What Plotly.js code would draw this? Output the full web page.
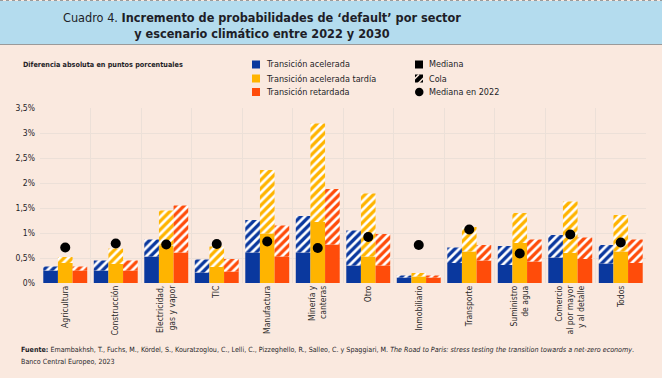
<!DOCTYPE html>
<html>
<head>
<meta charset="utf-8">
<script src="https://cdn.plot.ly/plotly-3.0.1.min.js"></script>
<style>html,body{margin:0;padding:0;background:#fff;}#chart{width:665px;height:378px;}</style>
</head>
<body>
<div id="chart"></div>
<script>
// ---- Data ----
const categorias = ['Agricultura','Construcción','Electricidad,<br>gas y vapor','TIC','Manufactura','Minería y<br>canteras','Otro','Inmobiliario','Transporte','Suministro<br>de agua','Comercio<br>al por mayor<br>y al detalle','Todos'];
const medianaAcelerada   = [0.25,0.25,0.53,0.21,0.61,0.61,0.35,0.11,0.40,0.36,0.51,0.39];
const colaAcelerada      = [0.33,0.45,0.87,0.47,1.26,1.34,1.05,0.15,0.71,0.74,0.96,0.76];
const medianaTardia      = [0.40,0.38,0.75,0.32,0.99,1.22,0.53,0.13,0.63,0.80,0.60,0.63];
const colaTardia         = [0.52,0.69,1.45,0.73,2.26,3.19,1.79,0.20,1.12,1.40,1.63,1.36];
const medianaRetardada   = [0.25,0.25,0.61,0.23,0.53,0.77,0.35,0.11,0.45,0.43,0.48,0.40];
const colaRetardada      = [0.33,0.45,1.55,0.48,1.15,1.88,0.98,0.15,0.76,0.87,0.91,0.87];
const mediana2022        = [0.71,0.79,0.77,0.78,0.83,0.70,0.92,0.76,1.07,0.59,0.97,0.81];
const yTickVals  = [0,0.5,1,1.5,2,2.5,3,3.5];
const yTickText  = ['0%','0,5%','1%','1,5%','2%','2,5%','3%','3,5%'];
const escenarios = ['Transición acelerada','Transición acelerada tardía','Transición retardada'];

// ---- Styles ----
const AZUL = '#0a389e', AMARILLO = '#ffb400', ROJO = '#ff4c0a';
const PEACH = '#fae9df', HEADER = '#b4dcee';
const FAM = "'Liberation Sans Narrow','DejaVu Sans Condensed','Roboto Condensed',Roboto,sans-serif";
const TXT = '#1e1e28';

// plot area in px
const L = 40, R = 19, T = 108, B = 95, W = 665, H = 378;
const PW = W - L - R, PH = H - T - B;
const px = v => (v - L) / PW;
const py = v => (H - B - v) / PH;

function solid(y, color, g) {
  return {type:'bar', x:categorias, y:y, offsetgroup:g, marker:{color:color, line:{width:0}}, hoverinfo:'skip', showlegend:false};
}
function hatch(top, med, color, g) {
  return {type:'bar', x:categorias, y:top.map((t,i)=>t-med[i]), base:med, offsetgroup:g,
    marker:{color:color, line:{width:0}, pattern:{shape:'/', fgcolor:'#ffffff', bgcolor:color, size:6, solidity:0.45, fillmode:'replace'}},
    hoverinfo:'skip', showlegend:false};
}

const traces = [
  solid(medianaAcelerada, AZUL, 'a'), hatch(colaAcelerada, medianaAcelerada, AZUL, 'a'),
  solid(medianaTardia, AMARILLO, 'b'), hatch(colaTardia, medianaTardia, AMARILLO, 'b'),
  solid(medianaRetardada, ROJO, 'c'), hatch(colaRetardada, medianaRetardada, ROJO, 'c'),
  {type:'scatter', mode:'markers', x:categorias, y:mediana2022, marker:{color:'#000', size:10}, hoverinfo:'skip', showlegend:false}
];

const shapes = [
  // header band
  {type:'rect', xref:'paper', yref:'paper', x0:px(0), x1:px(662), y0:py(44), y1:py(1), fillcolor:HEADER, line:{width:0}, layer:'below'},
  {type:'line', xref:'paper', yref:'paper', x0:px(0), x1:px(662), y0:py(0.5), y1:py(0.5), line:{color:'#9a9a9a', width:1, dash:'dot'}},
  {type:'line', xref:'paper', yref:'paper', x0:px(0), x1:px(662), y0:py(44.5), y1:py(44.5), line:{color:'#9a9a9a', width:1}},
  // white strip on the right
  {type:'rect', xref:'paper', yref:'paper', x0:px(662), x1:px(666), y0:py(379), y1:py(-1), fillcolor:'#ffffff', line:{width:0}}
];
const annotations = [
  {xref:'paper', yref:'paper', x:px(262), y:py(25), xanchor:'center', yanchor:'middle', showarrow:false, align:'center',
   text:'Cuadro 4. <b>Incremento de probabilidades de ‘default’ por sector</b><br><b>y escenario climático entre 2022 y 2030</b>',
   font:{family:FAM, size:12.6, color:TXT}},
  {xref:'paper', yref:'paper', x:px(21), y:py(64.5), xanchor:'left', yanchor:'middle', showarrow:false,
   text:'<b>Diferencia absoluta en puntos porcentuales</b>', font:{family:FAM, size:7.2, color:TXT}},
  {xref:'paper', yref:'paper', x:px(19), y:py(349), xanchor:'left', yanchor:'middle', showarrow:false,
   text:'<b>Fuente:</b> Emambakhsh, T., Fuchs, M., Kördel, S., Kouratzoglou, C., Lelli, C., Pizzeghello, R., Salleo, C. y Spaggiari, M. <i>The Road to Paris: stress testing the transition towards a net-zero economy</i>.',
   font:{family:FAM, size:7.1, color:TXT}},
  {xref:'paper', yref:'paper', x:px(19), y:py(361), xanchor:'left', yanchor:'middle', showarrow:false,
   text:'Banco Central Europeo, 2023', font:{family:FAM, size:7.1, color:TXT}}
];

// legend
const rows = [64.5, 78.5, 92];
const colores = [AZUL, AMARILLO, ROJO];
escenarios.forEach((e,i)=>{
  shapes.push({type:'rect', xref:'paper', yref:'paper', x0:px(252), x1:px(260), y0:py(rows[i]+4), y1:py(rows[i]-4), fillcolor:colores[i], line:{width:0}});
  annotations.push({xref:'paper', yref:'paper', x:px(264), y:py(rows[i]), xanchor:'left', yanchor:'middle', showarrow:false,
    text:e, font:{family:FAM, size:9, color:TXT}});
});
const lx = 415;
shapes.push({type:'rect', xref:'paper', yref:'paper', x0:px(lx), x1:px(lx+8), y0:py(rows[0]+4), y1:py(rows[0]-4), fillcolor:'#000', line:{width:0}});
shapes.push({type:'rect', xref:'paper', yref:'paper', x0:px(lx), x1:px(lx+8), y0:py(rows[1]+4), y1:py(rows[1]-4), fillcolor:'#000', line:{width:0}});
[[lx-1, rows[1]+1, lx+4, rows[1]-4],[lx+3, rows[1]+5, lx+9, rows[1]-1]].forEach(s=>{
  shapes.push({type:'line', xref:'paper', yref:'paper', x0:px(s[0]), y0:py(s[1]), x1:px(s[2]), y1:py(s[3]), line:{color:PEACH, width:1.6}});
});
shapes.push({type:'circle', xref:'paper', yref:'paper', x0:px(lx), x1:px(lx+8.5), y0:py(rows[2]+4.25), y1:py(rows[2]-4.25), fillcolor:'#000', line:{width:0}});
['Mediana','Cola','Mediana en 2022'].forEach((t,i)=>{
  annotations.push({xref:'paper', yref:'paper', x:px(lx+12), y:py(rows[i]), xanchor:'left', yanchor:'middle', showarrow:false,
    text:t, font:{family:FAM, size:9, color:TXT}});
});

const layout = {
  width:W, height:H, margin:{l:L, r:R, t:T, b:B, pad:0},
  paper_bgcolor:PEACH, plot_bgcolor:PEACH,
  barmode:'group', bargap:0.13, bargroupgap:0,
  hovermode:false, showlegend:false,
  font:{family:FAM, color:TXT},
  xaxis:{type:'category', tickson:'boundaries', showgrid:true, gridcolor:'#ece0d8', gridwidth:1, ticks:'', tickangle:-90,
         tickfont:{family:FAM, size:8.5, color:'#2a2a2a'}, zeroline:false, showline:false, range:[-0.5, 11.5]},
  yaxis:{range:[0,3.5], tickvals:yTickVals, ticktext:yTickText, showgrid:true, gridcolor:'#ece0d8', gridwidth:1, zeroline:false,
         ticks:'', tickfont:{family:FAM, size:8.5, color:TXT}, ticklabelstandoff:4},
  shapes:shapes, annotations:annotations
};

Plotly.newPlot('chart', traces, layout, {staticPlot:true, displayModeBar:false});
</script>
</body>
</html>
